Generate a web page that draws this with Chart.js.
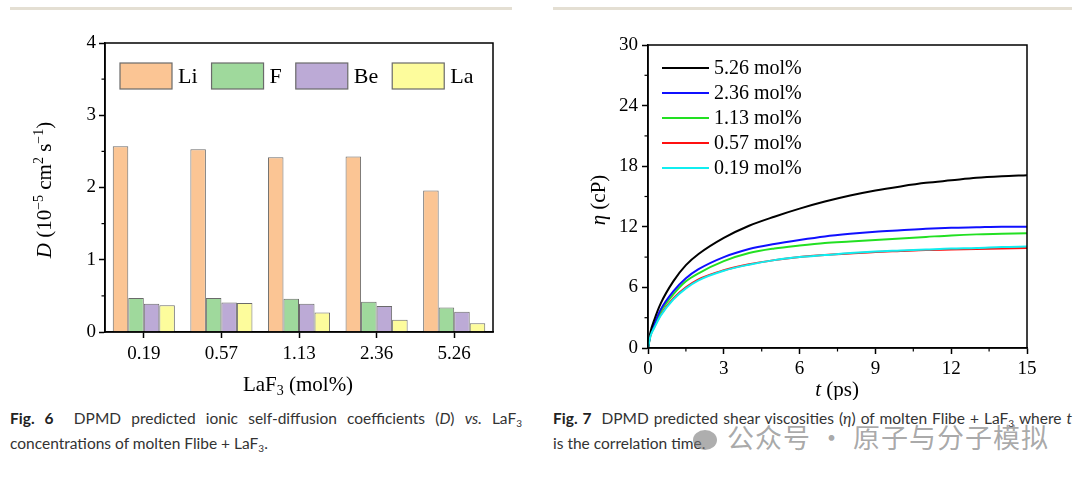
<!DOCTYPE html>
<html>
<head>
<meta charset="utf-8">
<script src="https://cdn.jsdelivr.net/npm/chart.js@4/dist/chart.umd.min.js"></script>
<style>
  html, body { margin: 0; padding: 0; background: #fff; }
  body { width: 1080px; height: 482px; position: relative; overflow: hidden; }
  .rule { position: absolute; top: 7px; height: 3px; background: #e4dfd3; }
  .box { position: absolute; top: 0; width: 540px; height: 400px; }
  .cap { position: absolute; font-family: Lato, "Noto Sans", sans-serif; font-size: 15.5px; color: #333; line-height: 25px; }
  .cap div { text-align: justify; white-space: nowrap; }
  .cap .full { text-align-last: justify; white-space: normal; }
  .cap b { color: #222; font-weight: 700; }
  .cap sub { font-size: 10px; line-height: 0; vertical-align: -3px; }
  .wm { position: absolute; left: 693px; top: 417px; font-family: "Noto Sans CJK SC", sans-serif; font-size: 27px; color: rgba(120,120,120,0.65); letter-spacing: 1px; }
  .wm i { display: inline-block; width: 24px; height: 20px; border-radius: 50%; background: rgba(120,120,120,0.6); vertical-align: -2px; margin-right: 10px; }
</style>
</head>
<body>
<div class="rule" style="left:10px;width:502px"></div>
<div class="rule" style="left:553px;width:519px"></div>
<div class="box" style="left:0"><canvas id="fig6" width="540" height="400"></canvas></div>
<div class="box" style="left:540px"><canvas id="fig7" width="540" height="400"></canvas></div>

<div class="cap" style="left:10px;top:406px;width:512px">
  <div class="full"><b>Fig. 6</b>&nbsp; DPMD predicted ionic self-diffusion coefficients (<i>D</i>) <i>vs.</i> LaF<sub>3</sub></div>
  <div>concentrations of molten Flibe + LaF<sub>3</sub>.</div>
</div>
<div class="cap" style="left:553px;top:406px;width:519px">
  <div class="full"><b>Fig. 7</b>&nbsp; DPMD predicted shear viscosities (<i>η</i>) of molten Flibe + LaF<sub>3</sub> where <i>t</i></div>
  <div>is the correlation time.</div>
</div>
<div class="wm"><i></i>公众号 · 原子与分子模拟</div>

<script>
// Fig. 6 - diffusion coefficients, 10^-5 cm^2/s
const concLabels = ["0.19", "0.57", "1.13", "2.36", "5.26"];
const dLi = [2.57, 2.53, 2.42, 2.43, 1.96];
const dF  = [0.47, 0.47, 0.46, 0.42, 0.34];
const dBe = [0.39, 0.41, 0.39, 0.36, 0.28];
const dLa = [0.37, 0.40, 0.27, 0.17, 0.12];

// Fig. 7 - viscosity (cP) vs correlation time (ps)
const tPs    = [0, 0.1, 0.25, 0.5, 1, 1.5, 2, 3, 4, 5, 6, 7, 8, 9, 10, 11, 12, 13, 14, 15];
const eta526 = [0, 1.6, 2.8, 4.4, 6.6, 8.2, 9.3, 10.9, 12.1, 13.0, 13.8, 14.5, 15.1, 15.6, 16.0, 16.35, 16.6, 16.85, 17.0, 17.1];
const eta236 = [0, 1.4, 2.4, 3.8, 5.6, 6.9, 7.8, 9.0, 9.8, 10.3, 10.7, 11.05, 11.3, 11.5, 11.65, 11.8, 11.9, 11.95, 12.0, 12.0];
const eta113 = [0, 1.35, 2.3, 3.6, 5.3, 6.6, 7.4, 8.6, 9.4, 9.85, 10.15, 10.4, 10.55, 10.7, 10.85, 11.0, 11.15, 11.25, 11.3, 11.35];
const eta057 = [0, 1.25, 2.1, 3.3, 4.9, 6.0, 6.8, 7.7, 8.3, 8.7, 9.0, 9.2, 9.35, 9.5, 9.6, 9.7, 9.75, 9.8, 9.85, 9.9];
const eta019 = [0, 1.2, 2.0, 3.2, 4.8, 5.9, 6.7, 7.65, 8.25, 8.7, 9.0, 9.2, 9.4, 9.55, 9.65, 9.75, 9.85, 9.9, 10.0, 10.05];

const SERIF = "'Liberation Serif', 'Times New Roman', serif";

// draws rich text: segments {t, it, sup, sub}
function richText(ctx, segs, x, y, size, rotate) {
  ctx.save();
  ctx.translate(x, y);
  if (rotate) ctx.rotate(-Math.PI / 2);
  ctx.fillStyle = "#000";
  ctx.textBaseline = "alphabetic";
  const font = s => (s.it ? "italic " : "") + Math.round(s.sup || s.sub ? size * 0.65 : size) + "px " + SERIF;
  let w = 0;
  segs.forEach(s => { ctx.font = font(s); w += ctx.measureText(s.t).width; });
  let cx = -w / 2;
  segs.forEach(s => {
    ctx.font = font(s);
    const dy = s.sup ? -size * 0.4 : s.sub ? size * 0.2 : 0;
    ctx.fillText(s.t, cx, size * 0.33 + dy);
    cx += ctx.measureText(s.t).width;
  });
  ctx.restore();
}

const decor = {
  id: "decor",
  afterDraw(chart, args, o) {
    const ctx = chart.ctx;
    const a = chart.chartArea;
    ctx.save();
    ctx.strokeStyle = "#000";
    ctx.lineWidth = 1.5;
    ctx.strokeRect(a.left, a.top, a.right - a.left, a.bottom - a.top);
    // minor ticks
    ctx.lineWidth = 1.2;
    (o.minorY || []).forEach(v => {
      const y = chart.scales.y.getPixelForValue(v);
      ctx.beginPath(); ctx.moveTo(a.left, y); ctx.lineTo(a.left - 3.5, y); ctx.stroke();
    });
    (o.minorX || []).forEach(v => {
      const x = chart.scales.x.getPixelForValue(v);
      ctx.beginPath(); ctx.moveTo(x, a.bottom); ctx.lineTo(x, a.bottom + 3.5); ctx.stroke();
    });
    // axis titles
    richText(ctx, o.yTitle, o.yTitlePos[0], o.yTitlePos[1], 21, true);
    richText(ctx, o.xTitle, o.xTitlePos[0], o.xTitlePos[1], 21, false);
    // legend
    const lg = o.legend;
    ctx.font = lg.size + "px " + SERIF;
    ctx.textBaseline = "middle";
    let x = lg.x, y = lg.y;
    chart.data.datasets.forEach(ds => {
      if (lg.type === "box") {
        ctx.fillStyle = ds.backgroundColor;
        ctx.fillRect(x, y - 13, 52, 26);
        ctx.strokeStyle = "#6a6a6a"; ctx.lineWidth = 1.2;
        ctx.strokeRect(x, y - 13, 52, 26);
        ctx.fillStyle = "#000";
        ctx.fillText(ds.label, x + 58, y + 1);
        x += 58 + ctx.measureText(ds.label).width + 14;
      } else {
        ctx.strokeStyle = ds.borderColor; ctx.lineWidth = 2;
        ctx.beginPath(); ctx.moveTo(x, y); ctx.lineTo(x + 47, y); ctx.stroke();
        ctx.fillStyle = "#000";
        ctx.fillText(ds.label, x + 52, y + 1);
        y += 25;
      }
    });
    ctx.restore();
  }
};

function axisCommon(extra) {
  return Object.assign({
    border: { display: true, color: "#000", width: 1.5 },
    grid: { drawOnChartArea: false, drawTicks: true, tickLength: 6, color: "#000", tickWidth: 1.5, offset: false },
    ticks: { color: "#000", font: { family: SERIF, size: 19 }, padding: 4 }
  }, extra);
}

new Chart(document.getElementById("fig6"), {
  type: "bar",
  data: {
    labels: concLabels,
    datasets: [
      { label: "Li", data: dLi, backgroundColor: "#fbc594" },
      { label: "F",  data: dF,  backgroundColor: "#9fd99c" },
      { label: "Be", data: dBe, backgroundColor: "#bcaad6" },
      { label: "La", data: dLa, backgroundColor: "#fdfc9c" }
    ].map(d => Object.assign(d, { borderColor: "#6a6a6a", borderWidth: 1, categoryPercentage: 0.8, barPercentage: 1 }))
  },
  options: {
    responsive: false,
    animation: false,
    events: [],
    layout: { padding: { left: 0, right: 47, top: 43, bottom: 0 } },
    plugins: {
      legend: { display: false },
      tooltip: { enabled: false },
      decor: {
        minorY: [0.5, 1.5, 2.5, 3.5],
        yTitle: [{ t: "D", it: true }, { t: " (10" }, { t: "−5", sup: true }, { t: " cm" }, { t: "2", sup: true }, { t: " s" }, { t: "−1", sup: true }, { t: ")" }],
        yTitlePos: [44, 190],
        xTitle: [{ t: "LaF" }, { t: "3", sub: true }, { t: " (mol%)" }],
        xTitlePos: [298, 384],
        legend: { type: "box", x: 120, y: 76, size: 22 }
      }
    },
    scales: {
      x: axisCommon({ afterFit: s => { s.height = 68; }, ticks: { color: "#000", font: { family: SERIF, size: 19 }, padding: 5 } }),
      y: axisCommon({ min: 0, max: 4, afterFit: s => { s.width = 105; },
        ticks: { color: "#000", font: { family: SERIF, size: 19 }, padding: 3, stepSize: 1 } })
    }
  },
  plugins: [decor]
});

const etaSeries = [
  { label: "5.26 mol%", data: eta526, color: "#000000", order: 1 },
  { label: "2.36 mol%", data: eta236, color: "#1010ff", order: 2 },
  { label: "1.13 mol%", data: eta113, color: "#22e022", order: 3 },
  { label: "0.57 mol%", data: eta057, color: "#ff1010", order: 4 },
  { label: "0.19 mol%", data: eta019, color: "#10eef0", order: 0 }
];

new Chart(document.getElementById("fig7"), {
  type: "line",
  data: {
    datasets: etaSeries.map(s => ({
      label: s.label,
      data: s.data.map((v, i) => ({ x: tPs[i], y: v })),
      borderColor: s.color,
      borderWidth: 2,
      pointRadius: 0,
      order: s.order,
      cubicInterpolationMode: "monotone",
      fill: false
    }))
  },
  options: {
    responsive: false,
    animation: false,
    events: [],
    layout: { padding: { left: 0, right: 53, top: 45, bottom: 0 } },
    plugins: {
      legend: { display: false },
      tooltip: { enabled: false },
      decor: {
        minorY: [3, 9, 15, 21, 27],
        minorX: [1.5, 4.5, 7.5, 10.5, 13.5],
        yTitle: [{ t: "η", it: true }, { t: " (cP)" }],
        yTitlePos: [58, 200],
        xTitle: [{ t: "t", it: true }, { t: " (ps)" }],
        xTitlePos: [297, 389],
        legend: { type: "line", x: 122, y: 68, size: 20 }
      }
    },
    scales: {
      x: axisCommon({ type: "linear", min: 0, max: 15, afterFit: s => { s.height = 52; },
        ticks: { color: "#000", font: { family: SERIF, size: 19 }, padding: 4, stepSize: 3 } }),
      y: axisCommon({ min: 0, max: 30, afterFit: s => { s.width = 108; },
        ticks: { color: "#000", font: { family: SERIF, size: 19 }, padding: 4, stepSize: 6 } })
    }
  },
  plugins: [decor]
});
</script>
</body>
</html>
